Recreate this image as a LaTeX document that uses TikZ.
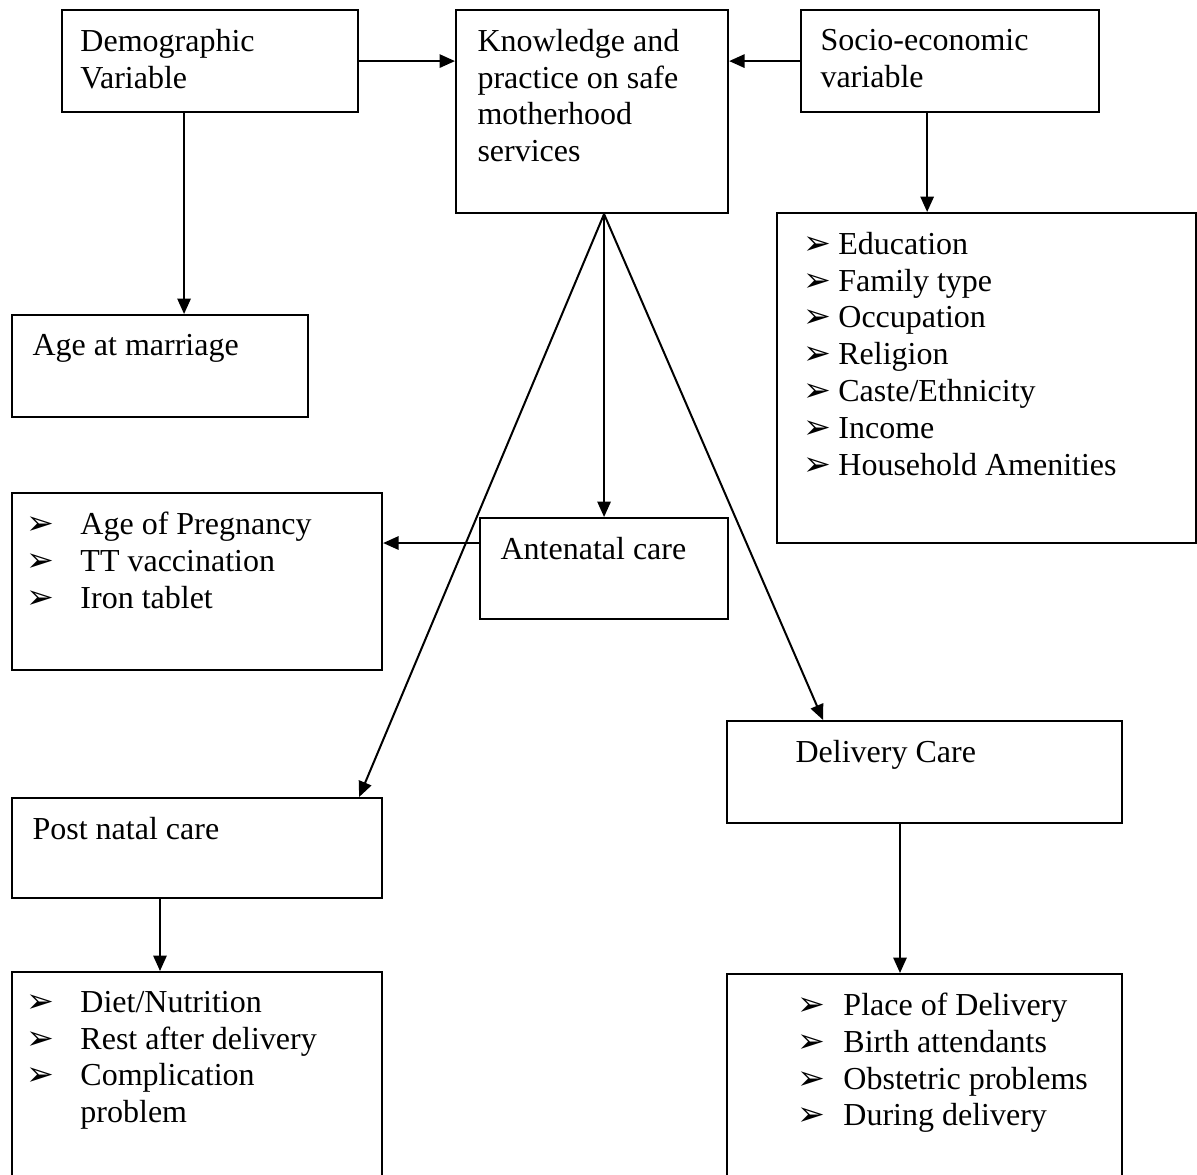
\documentclass[tikz,border=0pt]{standalone}
\usepackage{fontspec}
\setmainfont{Liberation Serif}
\newfontfamily\arrowfont{DejaVu Sans}
\usepackage{tikz}
\usetikzlibrary{arrows.meta}
\newcommand{\itm}[1]{\makebox[#1][l]{\arrowfont\fontsize{12.5}{12}\selectfont ➢}}

\begin{document}
\begin{tikzpicture}[x = .375pt, y = -.375pt,
    box/.style = { draw, line width = .8pt, anchor = north west, inner sep = 0pt },
    lbl/.style = { anchor = north west, align = left, inner ysep = 7.3pt, inner xsep = #1,
                   font = \fontsize{12}{13.8}\selectfont },
    arr/.style = { line width = .75pt, -{Triangle[length = 5.8pt, width = 5pt]} }]
    \useasboundingbox (0,0) rectangle (1197,1174);
    \clip (0,0) rectangle (1197,1174);

    % top row
    \node [box, minimum width = 111pt, minimum height = 38.25pt,
           label = {[lbl = 7.1pt]north west:Demographic\\Variable}] (demo) at (61,9) {};
    \node [box, minimum width = 102pt, minimum height = 76.1pt,
           label = {[lbl = 8.25pt]north west:Knowledge and\\practice on safe\\motherhood\\services}] (know) at (455,9) {};
    \node [box, minimum width = 111.75pt, minimum height = 38.25pt,
           label = {[lbl = 7.5pt]north west:Socio-economic\\variable}] (socio) at (800,9) {};

    \node [box, minimum width = 157.1pt, minimum height = 123.75pt,
           label = {[lbl = 10.1pt]north west:\itm{13.1pt}Education\\ \itm{13.1pt}Family type\\
             \itm{13.1pt}Occupation\\ \itm{13.1pt}Religion\\ \itm{13.1pt}Caste/Ethnicity\\
             \itm{13.1pt}Income\\ \itm{13.1pt}Household Amenities}] (socvar) at (776,212) {};
    \node [box, minimum width = 111pt, minimum height = 38.25pt,
           label = {[lbl = 7.9pt]north west:Age at marriage}] (marr) at (11,314) {};

    % antenatal
    \node [box, minimum width = 93pt, minimum height = 37.9pt,
           label = {[lbl = 7.9pt]north west:Antenatal care}] (anc) at (479,517) {};
    \node [box, minimum width = 138.75pt, minimum height = 66.4pt,
           label = {[lbl = 5.6pt]north west:\itm{20.25pt}Age of Pregnancy\\
             \itm{20.25pt}TT vaccination\\ \itm{20.25pt}Iron tablet}] (ancvar) at (11,492) {};

    % post natal and delivery
    \node [box, minimum width = 138.75pt, minimum height = 37.5pt,
           label = {[lbl = 7.9pt]north west:Post natal care}] (pnc) at (11,797) {};
    \node [box, minimum width = 148.1pt, minimum height = 38.25pt,
           label = {[lbl = 25.9pt]north west:Delivery Care}] (deli) at (726,720) {};
    \node [box, minimum width = 138.75pt, minimum height = 85.9pt,
           label = {[lbl = 5.6pt]north west:\itm{20.25pt}Diet/Nutrition\\
             \itm{20.25pt}Rest after delivery\\ \itm{20.25pt}Complication\\
             \hspace*{20.25pt}problem}] (pncvar) at (11,971) {};
    \node [box, minimum width = 148.1pt, minimum height = 85.1pt,
           label = {[lbl = 26.6pt]north west:\itm{17.25pt}Place of Delivery\\
             \itm{17.25pt}Birth attendants\\ \itm{17.25pt}Obstetric problems\\
             \itm{17.25pt}During delivery}] (delivar) at (726,973) {};

    \coordinate (k) at (anc.north |- know.south);

    \draw [arr] (demo.east) -- (demo.east -| know.west);
    \draw [arr] (socio.west) -- (socio.west -| know.east);
    \draw [arr] ([xshift = -9.75pt]demo.south) -- ([xshift = -9.75pt]demo.south |- marr.north);
    \draw [arr] ([xshift = -8.6pt]socio.south) -- ([xshift = -8.6pt]socio.south |- socvar.north);
    \draw [arr] (k) -- (anc.north);
    \draw [arr] (k) -- ([xshift = -9pt]pnc.north east);
    \draw [arr] (k) -- ([xshift = 36.4pt]deli.north west);
    \draw [arr] ([yshift = 9.6pt]anc.west) -- ([yshift = 9.6pt]anc.west -| ancvar.east);
    \draw [arr] ([xshift = -13.9pt]pnc.south) -- ([xshift = -13.9pt]pnc.south |- pncvar.north);
    \draw [arr] ([xshift = -9.2pt]deli.south) -- ([xshift = -9.2pt]deli.south |- delivar.north);
\end{tikzpicture}
\end{document}
